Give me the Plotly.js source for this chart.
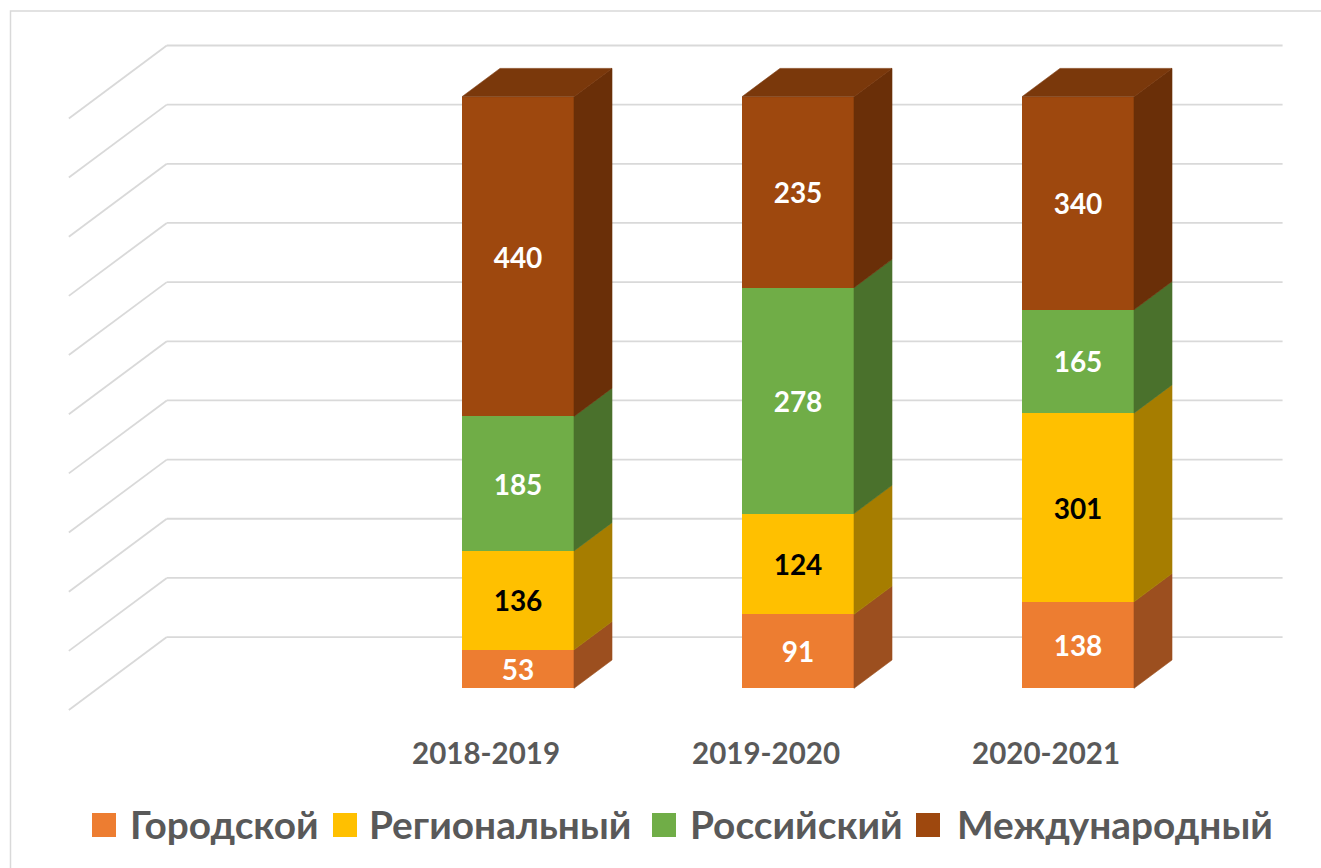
<!DOCTYPE html>
<html><head><meta charset="utf-8">
<script src="https://cdn.plot.ly/plotly-3.0.1.min.js"></script>
<style>html,body{margin:0;padding:0;background:#fff;}#chart{width:1321px;height:868px;}</style>
</head><body><div id="chart"></div>
<script>
// ---- data ----
const categories = ['2018-2019', '2019-2020', '2020-2021'];
const seriesNames = ['Городской', 'Региональный', 'Российский', 'Международный'];
const gorodskoy = [53, 91, 138];
const regionalny = [136, 124, 301];
const rossiysky = [185, 278, 165];
const mezhdunarodny = [440, 235, 340];
const gridPercents = [0, 10, 20, 30, 40, 50, 60, 70, 80, 90, 100];

// ---- style ----
const FONT = 'Lato, Carlito, "Open Sans", sans-serif';
const frontColors = ['#ED7D31', '#FFC000', '#70AD47', '#9E480E'];
const sideColors = ['#9C4F1F', '#A67D00', '#4A712C', '#6A2F08'];
const topColor = '#7A380B';
const labelColors = ['#FFFFFF', '#000000', '#FFFFFF', '#FFFFFF'];
const GRID = '#D9D9D9';
const TEXT = '#595959';

const W = 1321, H = 868, MB = 143;
const PH = H - MB;
const BAR_W = 0.4;
const DX = 38 / 280, DY = 28.3 / 5.916;      // depth vector (axis units)
const WALL = 1.81, FLOOR = -0.767;            // depth of back wall / floor front
const SLOT0 = -0.5, SLOTN = 3.5;              // category slot boundaries (one empty slot first)

const valuesBySeries = [gorodskoy, regionalny, rossiysky, mezhdunarodny];
const xPos = categories.map((c, i) => i + 1);
const totals = xPos.map((_, i) => valuesBySeries.reduce((a, v) => a + v[i], 0));

const traces = seriesNames.map((name, s) => ({
  type: 'bar', name: name, x: xPos, y: valuesBySeries[s], width: BAR_W,
  marker: {color: frontColors[s], line: {width: 0}},
  text: valuesBySeries[s].map(String), textposition: 'inside', insidetextanchor: 'middle',
  textangle: 0, constraintext: 'none',
  textfont: {family: FONT, size: 28, weight: 'bold', color: labelColors[s]},
  insidetextfont: {family: FONT, size: 28, weight: 'bold', color: labelColors[s]},
  showlegend: false, hoverinfo: 'skip'
}));

const shapes = [];
// back wall gridlines + left wall diagonals
gridPercents.forEach(p => {
  shapes.push({type: 'line', xref: 'x', yref: 'y', layer: 'below',
    x0: SLOT0 + WALL * DX, y0: p + WALL * DY, x1: SLOTN + WALL * DX - 0.015, y1: p + WALL * DY,
    line: {color: GRID, width: 1.8}});
  shapes.push({type: 'line', xref: 'x', yref: 'y', layer: 'below',
    x0: SLOT0 + FLOOR * DX, y0: p + FLOOR * DY, x1: SLOT0 + WALL * DX, y1: p + WALL * DY,
    line: {color: GRID, width: 1.8}});
});
// 3D side and top faces
xPos.forEach((xc, i) => {
  let cum = 0;
  const xl = xc - BAR_W / 2, xr = xc + BAR_W / 2;
  valuesBySeries.forEach((vals, s) => {
    const y0 = cum, y1 = cum + vals[i] / totals[i] * 100;
    cum = y1;
    shapes.push({type: 'path', xref: 'x', yref: 'y', layer: 'above',
      path: `M${xr},${y0} L${xr + DX},${y0 + DY} L${xr + DX},${y1 + DY} L${xr},${y1} Z`,
      fillcolor: sideColors[s], line: {color: sideColors[s], width: 0.6}});
  });
  shapes.push({type: 'path', xref: 'x', yref: 'y', layer: 'above',
    path: `M${xl},${cum} L${xl + DX},${cum + DY} L${xr + DX},${cum + DY} L${xr},${cum} Z`,
    fillcolor: topColor, line: {color: topColor, width: 0.6}});
});

// chart border
const px = v => v / W, py = v => (PH - v) / PH;
shapes.push({type: 'rect', xref: 'paper', yref: 'paper', x0: px(10.5), x1: px(1340), y0: py(890), y1: py(11),
  line: {color: GRID, width: 1.5}, fillcolor: 'rgba(0,0,0,0)'});

// legend (manual, to match large square keys)
const legendSquareX = [92, 333, 652, 916];
const legendTextX = [128, 367, 688, 955];
const annotations = [];
seriesNames.forEach((name, s) => {
  shapes.push({type: 'rect', xref: 'paper', yref: 'paper',
    x0: px(legendSquareX[s]), x1: px(legendSquareX[s] + 24), y0: py(837), y1: py(813),
    fillcolor: frontColors[s], line: {width: 0}});
  annotations.push({xref: 'paper', yref: 'paper', x: px(legendTextX[s]), y: py(824),
    xanchor: 'left', yanchor: 'middle', showarrow: false, text: name,
    font: {family: FONT, size: 38.8, weight: 'bold', color: TEXT}});
});

const layout = {
  width: W, height: H, margin: {l: 0, r: 0, t: 0, b: MB},
  paper_bgcolor: '#FFFFFF', plot_bgcolor: 'rgba(0,0,0,0)',
  barmode: 'stack', barnorm: 'percent',
  showlegend: false,
  xaxis: {range: [-518 / 280 + 1, 803 / 280 + 1], showgrid: false, zeroline: false, showline: false,
    tickmode: 'array', tickvals: xPos.map(x => x + FLOOR * DX - 0.01), ticktext: categories,
    ticks: '', ticklabelstandoff: 8,
    tickfont: {family: FONT, size: 29.5, weight: 'bold', color: TEXT}, fixedrange: true},
  yaxis: {range: [(688.3 - PH) / 5.916, 688.3 / 5.916], visible: false, showgrid: false, zeroline: false, fixedrange: true},
  shapes: shapes, annotations: annotations
};
Plotly.newPlot('chart', traces, layout, {displayModeBar: false, staticPlot: true});
</script></body></html>
